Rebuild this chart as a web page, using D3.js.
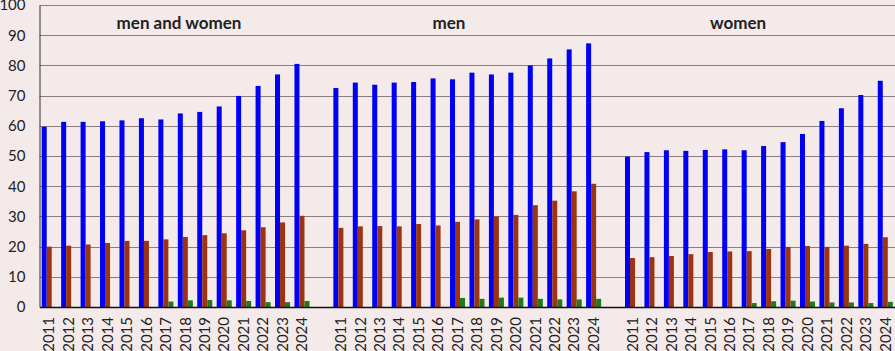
<!DOCTYPE html>
<html>
<head>
<meta charset="utf-8">
<script src="https://cdn.jsdelivr.net/npm/d3@7"></script>
<style>
    html, body { margin: 0; padding: 0; background: #f5eaea; }
    svg { display: block; }
    text { font-family: Lato, "Open Sans", sans-serif; fill: #222; }
</style>
</head>
<body>
<div id="chart"></div>
<script>
const groups = ["men and women", "men", "women"];
const years = [2011, 2012, 2013, 2014, 2015, 2016, 2017, 2018, 2019, 2020, 2021, 2022, 2023, 2024];
const yTicks = [0, 10, 20, 30, 40, 50, 60, 70, 80, 90, 100];

// men and women
const mwBlue = [59.7, 61.3, 61.3, 61.5, 61.8, 62.5, 62.1, 64.1, 64.6, 66.4, 69.9, 73.2, 77.0, 80.5];
const mwBrown = [20.0, 20.3, 20.7, 21.2, 21.9, 21.9, 22.4, 23.2, 23.8, 24.4, 25.4, 26.4, 28.0, 30.2];
const mwGreen = [0, 0, 0, 0, 0, 0, 1.8, 2.2, 2.3, 2.2, 2.0, 1.6, 1.6, 2.0];
// men
const menBlue = [72.5, 74.3, 73.6, 74.3, 74.5, 75.7, 75.4, 77.6, 77.0, 77.6, 80.0, 82.3, 85.3, 87.3];
const menBrown = [26.2, 26.7, 26.8, 26.7, 27.5, 27.0, 28.2, 29.0, 30.0, 30.5, 33.7, 35.2, 38.3, 40.8];
const menGreen = [0, 0, 0, 0, 0, 0, 3.0, 2.7, 3.1, 3.1, 2.7, 2.5, 2.5, 2.7];
// women
const womenBlue = [49.8, 51.3, 51.9, 51.7, 52.0, 52.2, 51.9, 53.3, 54.6, 57.3, 61.6, 65.8, 70.2, 74.9];
const womenBrown = [16.2, 16.5, 16.9, 17.5, 18.2, 18.4, 18.5, 19.2, 19.9, 20.2, 19.9, 20.3, 20.9, 23.1];
const womenGreen = [0, 0, 0, 0, 0, 0, 1.3, 1.9, 2.1, 1.8, 1.5, 1.5, 1.3, 1.7];

const seriesByGroup = [
    [mwBlue, mwBrown, mwGreen],
    [menBlue, menBrown, menGreen],
    [womenBlue, womenBrown, womenGreen],
];
const colors = ["#0000f5", "#9a3412", "#1d7a1d"];

const W = 895, H = 351;
const margin = { top: 5, right: 0, bottom: 44, left: 39.5 };

// category keys: 14 years per group, one empty slot between groups
const keys = [];
groups.forEach((g, gi) => {
    if (gi > 0) keys.push(`gap${gi}`);
    years.forEach((y) => keys.push(`${gi}-${y}`));
});

const rows = [];
groups.forEach((g, gi) => {
    years.forEach((y, yi) => {
        seriesByGroup[gi].forEach((vals, si) => {
            rows.push({ key: `${gi}-${y}`, s: si, v: vals[yi] });
        });
    });
});

const svg = d3.select("#chart").append("svg").attr("width", W).attr("height", H);

const x0 = d3.scaleBand().domain(keys).range([margin.left, W - margin.right]).padding(0);
const x1 = d3.scaleBand().domain([0, 1, 2]).range([0, x0.bandwidth()]).paddingInner(0).paddingOuter(0.44);
const y = d3.scaleLinear().domain([0, 100]).range([H - margin.bottom, margin.top]);

// gridlines
svg.append("g")
    .selectAll("line")
    .data(yTicks.filter((t) => t > 0))
    .join("line")
    .attr("x1", margin.left)
    .attr("x2", W)
    .attr("y1", (d) => Math.round(y(d)) + 0.5)
    .attr("y2", (d) => Math.round(y(d)) + 0.5)
    .attr("stroke", "#8a7e7e")
    .attr("stroke-width", 1.2);

// bars
svg.append("g")
    .selectAll("rect")
    .data(rows)
    .join("rect")
    .attr("x", (d) => x0(d.key) + x1(d.s))
    .attr("width", x1.bandwidth())
    .attr("y", (d) => y(d.v))
    .attr("height", (d) => y(0) - y(d.v))
    .attr("fill", (d) => colors[d.s]);

// y axis
const yAxis = svg.append("g")
    .attr("transform", `translate(${margin.left},0)`)
    .call(d3.axisLeft(y).tickValues(yTicks).tickSize(0).tickPadding(14));
yAxis.select(".domain").attr("stroke", "#333").attr("stroke-width", 1);
yAxis.selectAll("text").style("font-size", "15px").attr("fill", "#222");

// x axis
const xAxis = svg.append("g")
    .attr("transform", `translate(0,${y(0)})`)
    .call(d3.axisBottom(x0).tickSize(0).tickFormat((k) => (k.startsWith("gap") ? "" : k.split("-")[1])));
xAxis.select(".domain").attr("stroke", "#111").attr("stroke-width", 1.3);
xAxis.selectAll("text")
    .style("font-size", "15px")
    .attr("fill", "#222")
    .attr("text-anchor", "end")
    .attr("transform", "rotate(-90)")
    .attr("x", -10)
    .attr("y", 0)
    .attr("dy", "0.35em");

// group titles
const titleX = [179, 449, 738];
svg.append("g")
    .selectAll("text")
    .data(groups)
    .join("text")
    .attr("x", (d, i) => titleX[i])
    .attr("y", 29)
    .attr("text-anchor", "middle")
    .style("font-size", "17px")
    .style("font-weight", "bold")
    .text((d) => d);
</script>
</body>
</html>
